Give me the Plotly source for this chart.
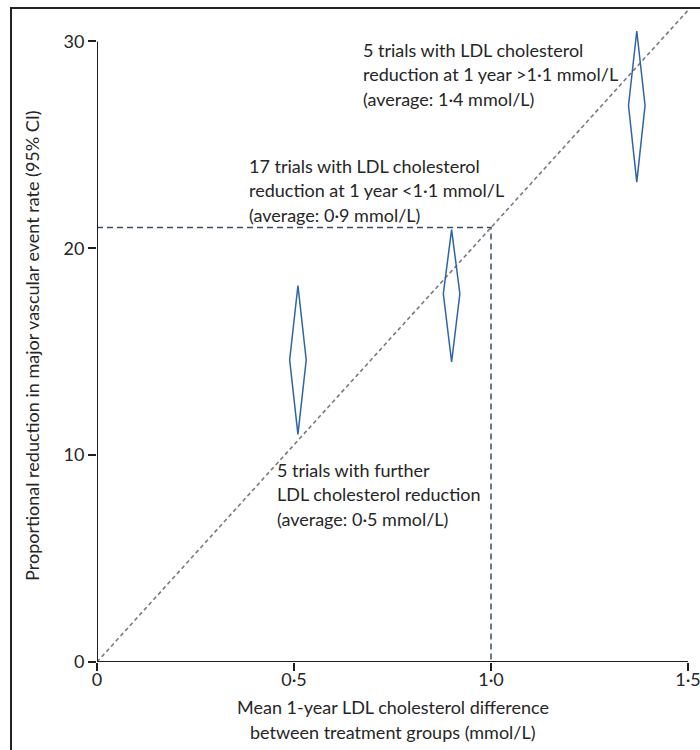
import plotly.graph_objects as go

# Axis ticks
x_ticks = [0, 0.5, 1.0, 1.5]
x_tick_labels = ["0", "0·5", "1·0", "1·5"]
y_ticks = [0, 10, 20, 30]
y_tick_labels = ["0", "10", "20", "30"]

# Mean 1-year LDL cholesterol difference (mmol/L) for each group of trials
ldl_diff = [0.51, 0.90, 1.37]
# Proportional reduction in major vascular event rate (%) with 95% CI
reduction_low = [11.0, 14.5, 23.2]
reduction_mid = [14.6, 17.8, 26.9]
reduction_high = [18.2, 20.9, 30.5]

# Reference line: proportional reduction per mmol/L
ref_x = [0, 1.5]
ref_y = [0, 31.5]

# Reduction expected at 1 mmol/L
marker_ldl = 1.0
marker_reduction = 21

# Group descriptions
group_labels = [
    ["5 trials with LDL cholesterol", "reduction at 1 year >1·1 mmol/L", "(average: 1·4 mmol/L)"],
    ["17 trials with LDL cholesterol", "reduction at 1 year <1·1 mmol/L", "(average: 0·9 mmol/L)"],
    ["5 trials with further", "LDL cholesterol reduction", "(average: 0·5 mmol/L)"],
]

FONT = "Lato, 'Open Sans', sans-serif"
TEXT = "#262626"
AXIS = "#1e1e1e"
BLUE = "#2f64a6"
FS = 18

fig = go.Figure()

# Diagonal reference line
fig.add_trace(go.Scatter(
    x=ref_x, y=ref_y, mode="lines",
    line=dict(color="#7a7a7a", width=1.6, dash="4px,3px"),
    hoverinfo="skip", showlegend=False,
))

# Guide lines at 1 mmol/L
fig.add_trace(go.Scatter(
    x=[0, marker_ldl, marker_ldl], y=[marker_reduction, marker_reduction, 0],
    mode="lines",
    line=dict(color="#35505e", width=1.5, dash="6px,4px"),
    hoverinfo="skip", showlegend=False,
))

# Confidence-interval diamonds
half_w = 0.021
for x, lo, mid, hi in zip(ldl_diff, reduction_low, reduction_mid, reduction_high):
    fig.add_trace(go.Scatter(
        x=[x, x + half_w, x, x - half_w, x],
        y=[lo, mid, hi, mid, lo],
        mode="lines",
        line=dict(color=BLUE, width=1.5),
        hoverinfo="skip", showlegend=False,
    ))

# Axis lines drawn only over the labelled extent
fig.add_shape(type="line", xref="x", yref="y", x0=0, x1=0, y0=0, y1=y_ticks[-1],
              line=dict(color=AXIS, width=2))
fig.add_shape(type="line", xref="x", yref="y", x0=0, x1=x_ticks[-1], y0=0, y1=0,
              line=dict(color=AXIS, width=2))

# Outer frame
fig.add_shape(type="rect", xref="paper", yref="paper",
              x0=-0.1455, x1=1.05, y0=-0.2, y1=0.988,
              line=dict(color="#222222", width=2))

# Group description text
block_pos = [
    (0.670, [29.6, 28.4, 27.2]),
    (0.381, [24.0, 22.8, 21.6]),
    (0.452, [9.3, 8.1, 6.9]),
]
for lines, (bx, ys) in zip(group_labels, block_pos):
    for line, yy in zip(lines, ys):
        fig.add_annotation(
            x=bx, y=yy, xref="x", yref="y", text=line, showarrow=False,
            xanchor="left", yanchor="middle",
            font=dict(family=FONT, size=FS, color=TEXT),
        )

# Axis titles
fig.add_annotation(
    x=-0.11, y=0.479, xref="paper", yref="paper",
    text="Proportional reduction in major vascular event rate (95% CI)",
    textangle=-90, showarrow=False, xanchor="center", yanchor="middle",
    font=dict(family=FONT, size=FS, color=TEXT),
)
for text, py in [("Mean 1-year LDL cholesterol difference", -0.068),
                 ("between treatment groups (mmol/L)", -0.106)]:
    fig.add_annotation(
        x=0.5, y=py, xref="paper", yref="paper", text=text, showarrow=False,
        xanchor="center", yanchor="middle",
        font=dict(family=FONT, size=FS, color=TEXT),
    )

fig.update_layout(
    width=700, height=750, autosize=False,
    margin=dict(l=97, r=12, t=0, b=88),
    paper_bgcolor="white", plot_bgcolor="white",
    font=dict(family=FONT, size=FS, color=TEXT),
    xaxis=dict(
        range=[0, 1.5], tickvals=x_ticks, ticktext=x_tick_labels,
        showgrid=False, zeroline=False, showline=False,
        ticks="outside", ticklen=8, tickwidth=2, tickcolor=AXIS,
        ticklabelstandoff=-7, ticklabeloverflow="allow",
        tickfont=dict(family=FONT, size=FS, color=TEXT),
    ),
    yaxis=dict(
        range=[0, 32], tickvals=y_ticks, ticktext=y_tick_labels,
        showgrid=False, zeroline=False, showline=False,
        ticks="outside", ticklen=8, tickwidth=2, tickcolor=AXIS,
        tickfont=dict(family=FONT, size=FS, color=TEXT),
    ),
)

fig.write_html("out.html")
